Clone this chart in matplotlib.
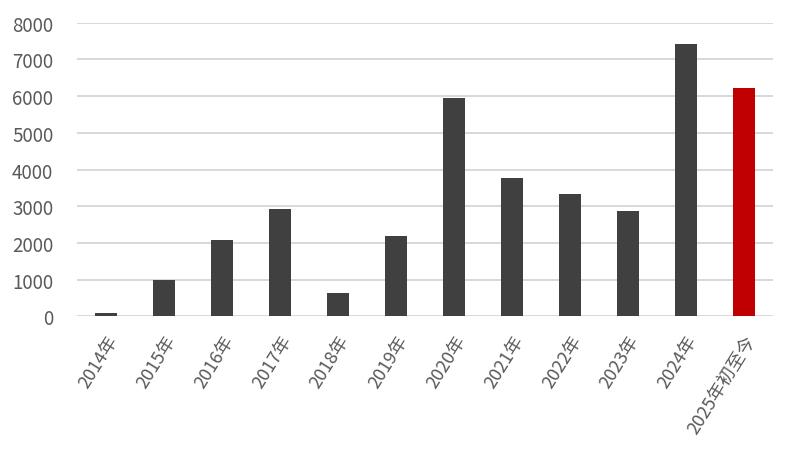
import numpy as np
import matplotlib.pyplot as plt

plt.rcParams['font.family'] = ['Noto Sans CJK SC', 'DejaVu Sans']

# categories and values
years = ['2014年', '2015年', '2016年', '2017年', '2018年', '2019年',
         '2020年', '2021年', '2022年', '2023年', '2024年', '2025年初至今']
values = [95, 995, 2080, 2925, 640, 2190, 5950, 3770, 3335, 2870, 7420, 6220]

bar_colors = ['#404040'] * (len(years) - 1) + ['#C00000']

fig = plt.figure(figsize=(7.91, 4.56), dpi=100)
ax = fig.add_axes([0.0973, 0.304, 0.8797, 0.644])

x = np.arange(len(years))
ax.bar(x, values, width=0.39, color=bar_colors, zorder=3)

ax.set_xlim(-0.5, len(years) - 0.5)
ax.set_ylim(0, 8000)
ax.set_yticks(np.arange(0, 8001, 1000))
ax.grid(axis='y', color='#d6d6d6', linewidth=1.3, zorder=0)

for s in ['top', 'right', 'left', 'bottom']:
    ax.spines[s].set_visible(False)

ax.set_xticks(x)
ax.set_xticklabels(years, rotation=58, ha='right', va='top', rotation_mode='anchor')
ax.tick_params(axis='x', length=0, pad=11, labelsize=13, labelcolor='#595959')
ax.tick_params(axis='y', length=0, pad=17, labelsize=13.5, labelcolor='#595959')

fig.savefig('out.png', dpi=100)
